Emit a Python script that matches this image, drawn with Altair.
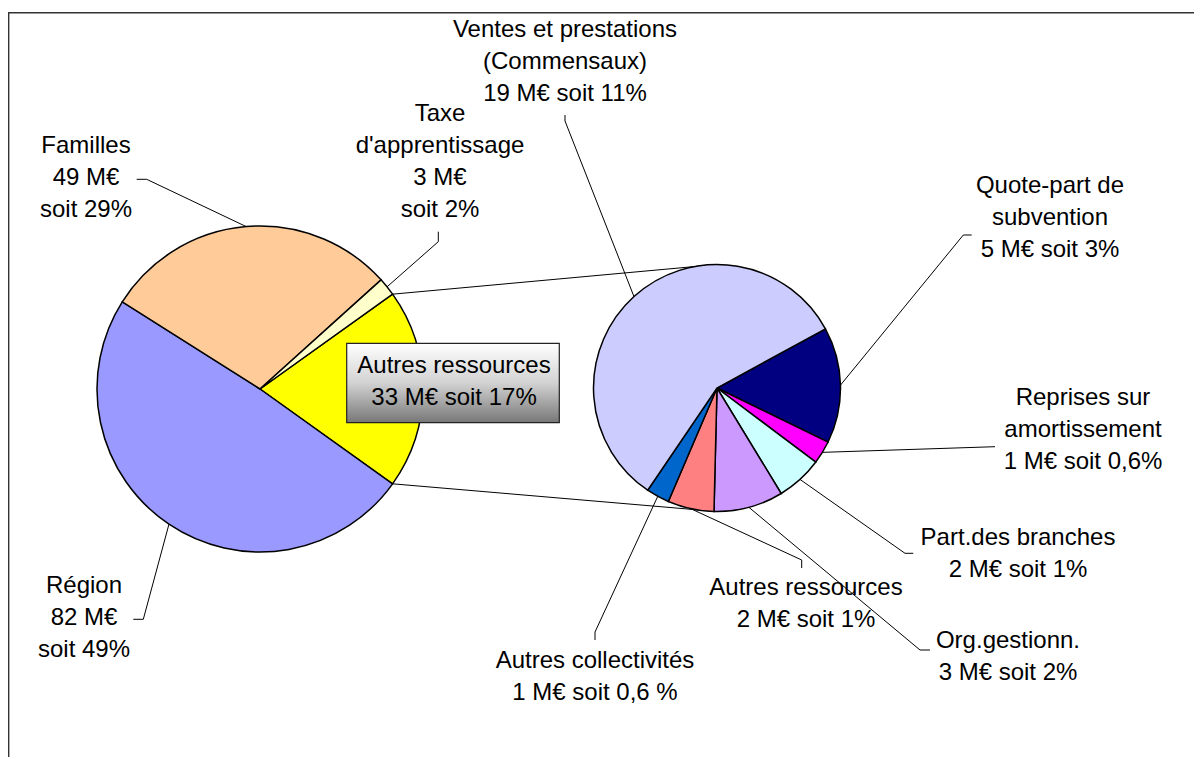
import math
import altair as alt
import pandas as pd

# ---------------- data ----------------
left_cats = ["Autres ressources", "Région", "Familles", "Taxe d'apprentissage"]
left_vals = [33, 82, 49, 3]

right_cats = ["Quote-part de subvention", "Reprises sur amortissement", "Part.des branches",
              "Org.gestionn.", "Autres ressources (détail)", "Autres collectivités",
              "Ventes et prestations (Commensaux)"]
right_vals = [5, 1, 2, 3, 2, 1, 19]

left_label_lines = {
    "Région": ["Région", "82 M€", "soit 49%"],
    "Familles": ["Familles", "49 M€", "soit 29%"],
    "Taxe d'apprentissage": ["Taxe", "d'apprentissage", "3 M€", "soit 2%"],
}
box_lines = ["Autres ressources", "33 M€ soit 17%"]
right_label_lines = {
    "Ventes et prestations (Commensaux)": ["Ventes et prestations", "(Commensaux)", "19 M€ soit 11%"],
    "Quote-part de subvention": ["Quote-part de", "subvention", "5 M€ soit 3%"],
    "Reprises sur amortissement": ["Reprises sur", "amortissement", "1 M€ soit 0,6%"],
    "Part.des branches": ["Part.des branches", "2 M€ soit 1%"],
    "Org.gestionn.": ["Org.gestionn.", "3 M€ soit 2%"],
    "Autres ressources (détail)": ["Autres ressources", "2 M€ soit 1%"],
    "Autres collectivités": ["Autres collectivités", "1 M€ soit 0,6 %"],
}

# ---------------- styles / layout ----------------
left_colors = ["#FFFF00", "#9999FF", "#FFCC99", "#FFFFCC"]
right_colors = ["#000080", "#FF00FF", "#CCFFFF", "#CC99FF", "#FF8080", "#0066CC", "#CCCCFF"]

W, H = 1186, 749
OX, OY = 8, 8                       # page margin
LCX, LCY, LR = 260, 389, 163        # left pie
RCX, RCY, RR = 717, 388, 123.5      # right pie
RIGHT_START = math.radians(61.4)
FONT = "Liberation Sans"
FS = 24
LH = 32

# label anchor: (center x, first baseline y)
label_pos = {
    "Région": (84, 593),
    "Familles": (86, 153),
    "Taxe d'apprentissage": (440, 121),
    "Ventes et prestations (Commensaux)": (565, 37),
    "Quote-part de subvention": (1050, 193),
    "Reprises sur amortissement": (1083, 405),
    "Part.des branches": (1018, 545),
    "Org.gestionn.": (1008, 648),
    "Autres ressources (détail)": (806, 595),
    "Autres collectivités": (595, 668),
}
box_pos = (454, 373)
box_rect = (346.7, 343.3, 559.3, 422.7)

# leader elbows (from slice edge to label)
leader_elbows = {
    "Région": [(143.3, 619.3), (133.3, 619.3)],
    "Familles": [(146.7, 179.3), (136.7, 179.3)],
    "Taxe d'apprentissage": [(438.3, 241.7), (438.3, 231.7)],
    "Ventes et prestations (Commensaux)": [(565, 121), (565, 115)],
    "Quote-part de subvention": [(963.3, 235), (971.7, 235)],
    "Reprises sur amortissement": [(995, 446.7)],
    "Part.des branches": [(905, 553.3), (913.3, 553.3)],
    "Org.gestionn.": [(920, 650), (930, 650)],
    "Autres ressources (détail)": [(801.7, 560), (801.7, 568)],
    "Autres collectivités": [(595, 632), (595, 640)],
}

# ---------------- geometry derived from data ----------------
left_total = sum(left_vals)
right_total = sum(right_vals)
LEFT_START = math.pi / 2 - math.pi * left_vals[0] / left_total


def edge_mids(cx, cy, r, vals, start):
    tot = sum(vals)
    a = start
    pts = []
    for v in vals:
        a1 = a + 2 * math.pi * v / tot
        m = (a + a1) / 2
        pts.append((cx + r * math.sin(m), cy - r * math.cos(m)))
        a = a1
    return pts


def polar(cx, cy, r, a):
    return (cx + r * math.sin(a), cy - r * math.cos(a))


left_mid = dict(zip(left_cats, edge_mids(LCX, LCY, LR, left_vals, LEFT_START)))
right_mid = dict(zip(right_cats, edge_mids(RCX, RCY, RR, right_vals, RIGHT_START)))
mids = {**left_mid, **right_mid}

xs = alt.Scale(domain=[OX, OX + W], range=[0, W], nice=False, zero=False)
ys = alt.Scale(domain=[OY, OY + H], range=[0, H], nice=False, zero=False)

# pies
left_df = pd.DataFrame({"cat": left_cats, "value": left_vals, "ord": range(len(left_cats))})
right_df = pd.DataFrame({"cat": right_cats, "value": right_vals, "ord": range(len(right_cats))})


def pie(df, total, start, cx, cy, r, cats, colors):
    return alt.Chart(df).mark_arc(radius=r, stroke="black", strokeWidth=1.5).encode(
        x=alt.value(cx - OX),
        y=alt.value(cy - OY),
        theta=alt.Theta("value:Q", stack=True,
                        scale=alt.Scale(domain=[0, total], range=[start, start + 2 * math.pi])),
        color=alt.Color("cat:N", scale=alt.Scale(domain=cats, range=colors), legend=None),
        order=alt.Order("ord:Q"),
    )


left_pie = pie(left_df, left_total, LEFT_START, LCX, LCY, LR, left_cats, left_colors)
right_pie = pie(right_df, right_total, RIGHT_START, RCX, RCY, RR, right_cats, right_colors)

# connector lines between the pies
up = polar(LCX, LCY, LR, LEFT_START)
lo = polar(LCX, LCY, LR, LEFT_START + 2 * math.pi * left_vals[0] / left_total)
conn_rows = [
    {"id": "c1", "k": 0, "x": up[0], "y": up[1]},
    {"id": "c1", "k": 1, "x": RCX, "y": RCY - RR},
    {"id": "c2", "k": 0, "x": lo[0], "y": lo[1]},
    {"id": "c2", "k": 1, "x": RCX, "y": RCY + RR},
]
conn = alt.Chart(pd.DataFrame(conn_rows)).mark_line(stroke="black", strokeWidth=1).encode(
    x=alt.X("x:Q", scale=xs, axis=None),
    y=alt.Y("y:Q", scale=ys, axis=None),
    detail="id:N",
    order=alt.Order("k:Q"),
)

# leader lines
lead_rows = []
for name, elbows in leader_elbows.items():
    pts = [mids[name]] + elbows
    for k, (px, py) in enumerate(pts):
        lead_rows.append({"id": name, "k": k, "x": px, "y": py})
leaders = alt.Chart(pd.DataFrame(lead_rows)).mark_line(stroke="black", strokeWidth=1).encode(
    x=alt.X("x:Q", scale=xs, axis=None),
    y=alt.Y("y:Q", scale=ys, axis=None),
    detail="id:N",
    order=alt.Order("k:Q"),
)

# frame (top + left edge of the chart border)
frame_rows = [
    {"id": "f", "k": 0, "x": OX + W, "y": 12.7},
    {"id": "f", "k": 1, "x": 8.6, "y": 12.7},
    {"id": "f", "k": 2, "x": 8.6, "y": OY + H},
]
frame = alt.Chart(pd.DataFrame(frame_rows)).mark_line(stroke="#333333", strokeWidth=1.6).encode(
    x=alt.X("x:Q", scale=xs, axis=None),
    y=alt.Y("y:Q", scale=ys, axis=None),
    detail="id:N",
    order=alt.Order("k:Q"),
)

# gradient box
box_df = pd.DataFrame([{"x": box_rect[0], "y": box_rect[1], "x2": box_rect[2], "y2": box_rect[3]}])
box = alt.Chart(box_df).mark_rect(
    fill={"gradient": "linear", "x1": 0, "y1": 0, "x2": 0, "y2": 1,
          "stops": [{"offset": 0, "color": "#ffffff"},
                    {"offset": 0.5, "color": "#d2d2d2"},
                    {"offset": 1, "color": "#777777"}]},
    stroke="#222222", strokeWidth=1.2,
).encode(
    x=alt.X("x:Q", scale=xs, axis=None), x2="x2:Q",
    y=alt.Y("y:Q", scale=ys, axis=None), y2="y2:Q",
)

# text rows
text_rows = []
for name, lines in {**left_label_lines, **right_label_lines}.items():
    lx, ly = label_pos[name]
    for i, t in enumerate(lines):
        text_rows.append({"x": lx, "y": ly + i * LH, "t": t})
for i, t in enumerate(box_lines):
    text_rows.append({"x": box_pos[0], "y": box_pos[1] + i * LH, "t": t})
texts = alt.Chart(pd.DataFrame(text_rows)).mark_text(
    font=FONT, fontSize=FS, align="center", baseline="alphabetic", color="black"
).encode(
    x=alt.X("x:Q", scale=xs, axis=None),
    y=alt.Y("y:Q", scale=ys, axis=None),
    text="t:N",
)

chart = alt.layer(frame, conn, left_pie, right_pie, leaders, box, texts).resolve_scale(
    theta="independent", color="independent"
).properties(
    width=W, height=H, padding=0, autosize="none", background="white"
).configure_view(stroke=None)

chart.save("out.html", embed_options={"renderer": "svg", "actions": False})
